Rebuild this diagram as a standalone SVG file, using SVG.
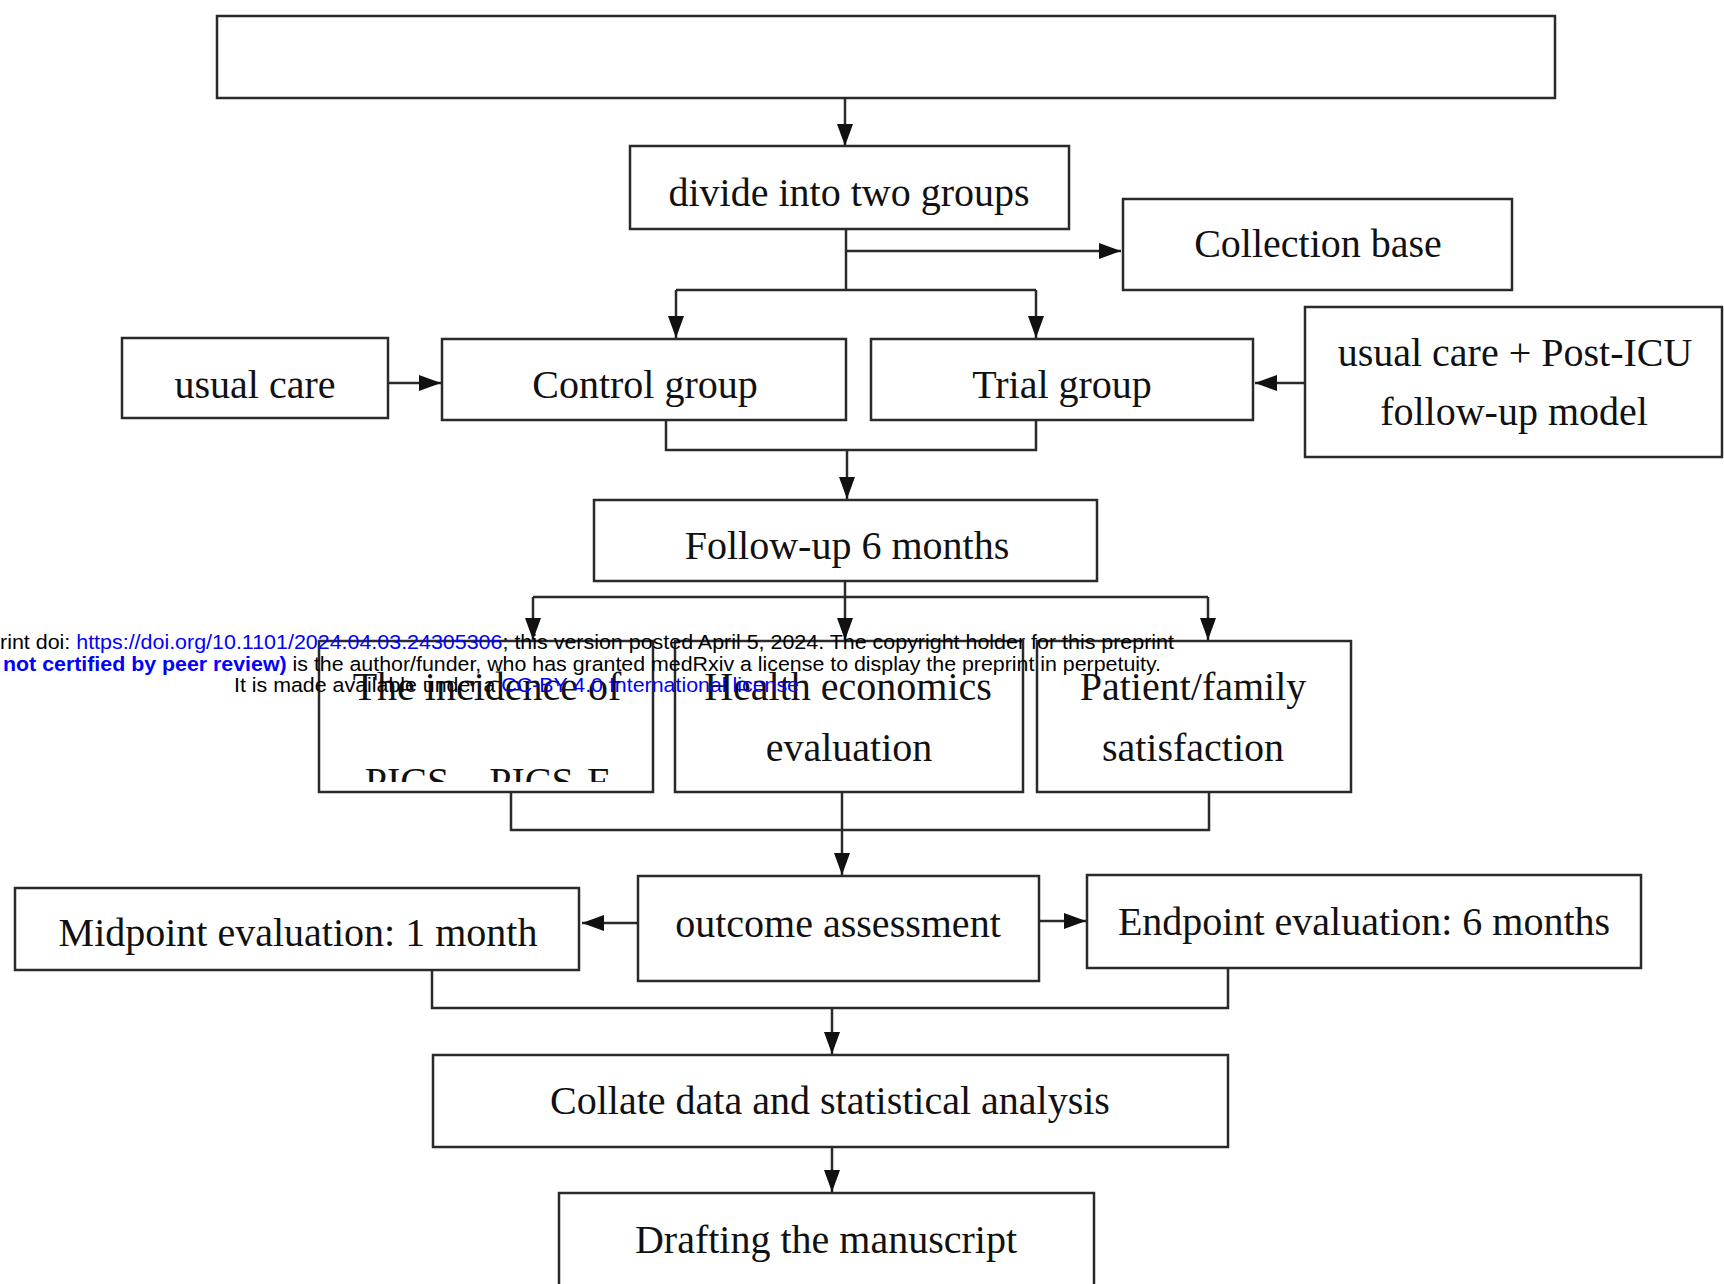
<svg xmlns="http://www.w3.org/2000/svg" width="1724" height="1284" viewBox="0 0 1724 1284">
<style>
.box{fill:#fff;stroke:#2a2a2a;stroke-width:2.5}
.t{font-family:"Liberation Serif","Times New Roman",serif;font-size:40px;fill:#111;text-anchor:middle}
.ln{fill:none;stroke:#2a2a2a;stroke-width:2.5}
.wm{font-family:"Liberation Sans",Arial,sans-serif;font-size:20.5px;fill:#000}
.lk{fill:#0000ff}
</style>
<defs>
<marker id="ah" markerUnits="userSpaceOnUse" markerWidth="24" markerHeight="18" refX="22" refY="8" orient="auto">
<path d="M0,0 L22,8 L0,16 z" fill="#111"/>
</marker>
<clipPath id="clipInc"><rect x="319" y="641" width="334" height="141"/></clipPath>
</defs>
<rect width="1724" height="1284" fill="#fff"/>

<g id="connectors">
<path class="ln" d="M845,98 V146" marker-end="url(#ah)"/>
<path class="ln" d="M846,229 V290"/>
<path class="ln" d="M846,251 H1121" marker-end="url(#ah)"/>
<path class="ln" d="M676,290 H1036"/>
<path class="ln" d="M676,290 V338" marker-end="url(#ah)"/>
<path class="ln" d="M1036,290 V338" marker-end="url(#ah)"/>
<path class="ln" d="M388,383 H441" marker-end="url(#ah)"/>
<path class="ln" d="M1305,383 H1255" marker-end="url(#ah)"/>
<path class="ln" d="M666,420 V450 H1036 V420"/>
<path class="ln" d="M847,450 V499" marker-end="url(#ah)"/>
<path class="ln" d="M845,581 V597"/>
<path class="ln" d="M533,597 H1208"/>
<path class="ln" d="M533,597 V640" marker-end="url(#ah)"/>
<path class="ln" d="M845,597 V640" marker-end="url(#ah)"/>
<path class="ln" d="M1208,597 V640" marker-end="url(#ah)"/>
<path class="ln" d="M511,792 V830 H1209 V792"/>
<path class="ln" d="M842,792 V875" marker-end="url(#ah)"/>
<path class="ln" d="M638,923 H582" marker-end="url(#ah)"/>
<path class="ln" d="M1039,921 H1086" marker-end="url(#ah)"/>
<path class="ln" d="M432,970 V1008 H1228 V968"/>
<path class="ln" d="M832,1008 V1054" marker-end="url(#ah)"/>
<path class="ln" d="M832,1147 V1192" marker-end="url(#ah)"/>
</g>

<g id="top"><rect class="box" x="217" y="16" width="1338" height="82"/></g>
<g id="divide"><rect class="box" x="630" y="146" width="439" height="83"/><text class="t" x="849" y="206">divide into two groups</text></g>
<g id="collection"><rect class="box" x="1123" y="199" width="389" height="91"/><text class="t" x="1318" y="257">Collection base</text></g>
<g id="usualcare"><rect class="box" x="122" y="338" width="266" height="80"/><text class="t" x="255" y="398">usual care</text></g>
<g id="control"><rect class="box" x="442" y="339" width="404" height="81"/><text class="t" x="645" y="398">Control group</text></g>
<g id="trial"><rect class="box" x="871" y="339" width="382" height="81"/><text class="t" x="1062" y="398">Trial group</text></g>
<g id="posticu"><rect class="box" x="1305" y="307" width="417" height="150"/><text class="t" x="1515" y="366">usual care + Post-ICU</text><text class="t" x="1514" y="425">follow-up model</text></g>
<g id="followup"><rect class="box" x="594" y="500" width="503" height="81"/><text class="t" x="847" y="559">Follow-up 6 months</text></g>
<g id="incidence"><rect class="box" x="319" y="641" width="334" height="151"/><g clip-path="url(#clipInc)"><text class="t" x="487" y="700">The incidence of</text><text class="t" x="487" y="795">PICS、PICS-F</text></g></g>
<g id="health"><rect class="box" x="675" y="641" width="348" height="151"/><text class="t" x="848" y="700">Health economics</text><text class="t" x="849" y="761">evaluation</text></g>
<g id="satisfaction"><rect class="box" x="1037" y="641" width="314" height="151"/><text class="t" x="1193" y="700">Patient/family</text><text class="t" x="1193" y="761">satisfaction</text></g>
<g id="outcome"><rect class="box" x="638" y="876" width="401" height="105"/><text class="t" x="838" y="937">outcome assessment</text></g>
<g id="midpoint"><rect class="box" x="15" y="888" width="564" height="82"/><text class="t" x="298" y="946">Midpoint evaluation: 1 month</text></g>
<g id="endpoint"><rect class="box" x="1087" y="875" width="554" height="93"/><text class="t" x="1364" y="935">Endpoint evaluation: 6 months</text></g>
<g id="collate"><rect class="box" x="433" y="1055" width="795" height="92"/><text class="t" x="830" y="1114">Collate data and statistical analysis</text></g>
<g id="drafting"><rect class="box" x="559" y="1193" width="535" height="100"/><text class="t" x="826" y="1253">Drafting the manuscript</text></g>

<g id="watermark">
<text class="wm" x="0" y="649" textLength="1174" lengthAdjust="spacingAndGlyphs">rint doi: <tspan class="lk">https://doi.org/10.1101/2024.04.03.24305306</tspan>; this version posted April 5, 2024. The copyright holder for this preprint</text>
<text class="wm" x="3" y="671" textLength="1158" lengthAdjust="spacingAndGlyphs"><tspan class="lk" font-weight="bold">not certified by peer review)</tspan> is the author/funder, who has granted medRxiv a license to display the preprint in perpetuity.</text>
<text class="wm" x="234" y="692" textLength="565" lengthAdjust="spacingAndGlyphs">It is made available under a <tspan class="lk">CC-BY 4.0 International license</tspan></text>
</g>
</svg>
